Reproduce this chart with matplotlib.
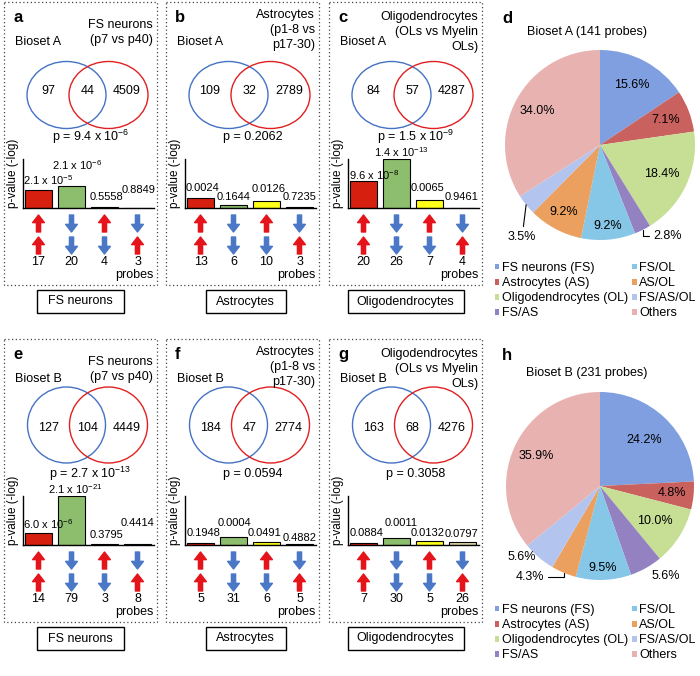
import numpy as np
import matplotlib
matplotlib.use('Agg')
import matplotlib.pyplot as plt
from matplotlib.patches import Ellipse, Rectangle

plt.rcParams['font.family'] = ['Liberation Sans', 'DejaVu Sans']
plt.rcParams['font.size'] = 9
plt.rcParams['mathtext.fontset'] = 'custom'
plt.rcParams['mathtext.rm'] = 'Liberation Sans'
plt.rcParams['mathtext.default'] = 'regular'

# ---- data ----
panel_letters = ['a', 'b', 'c', 'e', 'f', 'g']
biosets = ['Bioset A', 'Bioset A', 'Bioset A', 'Bioset B', 'Bioset B', 'Bioset B']
cell_titles = [['FS neurons', '(p7 vs p40)'], ['Astrocytes', '(p1-8 vs', 'p17-30)'],
               ['Oligodendrocytes', '(OLs vs Myelin', 'OLs)']]
cell_types = ['FS neurons', 'Astrocytes', 'Oligodendrocytes']
venn_bioset_only = [97, 109, 84, 127, 184, 163]
venn_overlap = [44, 32, 57, 104, 47, 68]
venn_cell_only = [4509, 2789, 4287, 4449, 2774, 4276]
overlap_p = [9.4e-6, 0.2062, 1.5e-9, 2.7e-13, 0.0594, 0.3058]
direction_pairs = [('up', 'up'), ('down', 'down'), ('up', 'down'), ('down', 'up')]
bar_p = [[2.1e-5, 2.1e-6, 0.5558, 0.8849],
         [0.0024, 0.1644, 0.0126, 0.7235],
         [9.6e-8, 1.4e-13, 0.0065, 0.9461],
         [6.0e-6, 2.1e-21, 0.3795, 0.4414],
         [0.1948, 0.0004, 0.0491, 0.4882],
         [0.0884, 0.0011, 0.0132, 0.0797]]
probe_counts = [[17, 20, 4, 3], [13, 6, 10, 3], [20, 26, 7, 4],
                [14, 79, 3, 8], [5, 31, 6, 5], [7, 30, 5, 26]]
pie_letters = ['d', 'h']
pie_titles = ['Bioset A (141 probes)', 'Bioset B (231 probes)']
pie_groups = ['FS neurons (FS)', 'Astrocytes (AS)', 'Oligodendrocytes (OL)', 'FS/AS',
              'FS/OL', 'AS/OL', 'FS/AS/OL', 'Others']
pie_a = [15.6, 7.1, 18.4, 2.8, 9.2, 9.2, 3.5, 34.0]
pie_b = [24.2, 4.8, 10.0, 5.6, 9.5, 4.3, 5.6, 35.9]

# ---- styles / layout ----
bar_colors = ['#D71F0F', '#8DBE6E', '#FFFF1A', '#DCD6A0']
arrow_colors = {'up': '#E5141B', 'down': '#4A78C6'}
pie_colors = ['#7F9FE0', '#C9625E', '#C6DF94', '#9381C2', '#86C6E6', '#EBA060',
              '#B3C5EF', '#E8B2B1']
W, H = 700, 676
box_x = [4, 166, 329]
box_y = [2, 339]
BOX_W, BOX_H = 153, 283
title_first = [23, 13, 15]   # centre of first title line, relative to box top
label_box_w = [87, 80, 116]
venn_geom = [dict(cy=93, w=79, h=67), dict(cy=86, w=78, h=76)]
label_dx = [[9.5, 6, 2, 1], [1.5, 0, 2, 0], [11, 5, -2, -1],
            [10, 3.5, 2, 0], [3, 1, -2, 0], [3.5, 5, -1.5, -1]]
label_lift = [[10, 21, 10, 18], [10, 8, 12, 10], [6, 7, 12, 11],
              [9, 7, 9, 21], [10, 14, 9, 6], [10, 15, 8, 8]]
arrow_rows = [(-24, -7), (-46, -29)]


def fmt_p(p):
    if p < 1e-4:
        m, e = f'{p:.1e}'.split('e')
        return f'{m} x 10$^{{{int(e)}}}$'
    return f'{p:.4f}'


fig = plt.figure(figsize=(W / 100, H / 100), dpi=100)
ov = fig.add_axes([0, 0, 1, 1])
ov.set_xlim(0, W)
ov.set_ylim(H, 0)
ov.axis('off')


def px_axes(x, y, w, h):
    a = fig.add_axes([x / W, 1 - (y + h) / H, w / W, h / H])
    a.patch.set_alpha(0)
    return a


heights = [-np.log10(np.array(p)) for p in bar_p]
row_max = [max(h.max() for h in heights[:3]), max(h.max() for h in heights[3:])]

for k in range(6):
    row, col = divmod(k, 3)
    bx, by = box_x[col], box_y[row]
    ov.add_patch(Rectangle((bx, by), BOX_W, BOX_H, fill=False, ls=(0, (1, 2)),
                           lw=0.9, ec='#444444'))
    ov.text(bx + 9, by + 20, panel_letters[k], fontsize=12, fontweight='bold', va='baseline')
    for j, line in enumerate(cell_titles[col]):
        ov.text(bx + 149, by + title_first[col] + 15 * j, line, ha='right', va='center')
    ov.text(bx + 11, by + 40, biosets[k], va='center')

    # venn
    g = venn_geom[row]
    blue_c, red_c = bx + 62.5, bx + 104.5
    cy = by + g['cy']
    ov.add_patch(Ellipse((blue_c, cy), g['w'], g['h'], fill=False, ec='#4472C4', lw=1))
    ov.add_patch(Ellipse((red_c, cy), g['w'], g['h'], fill=False, ec='#E02020', lw=1))
    mid = (blue_c + red_c) / 2
    ov.text(mid - g['w'] / 2, by + 89, str(venn_bioset_only[k]), ha='center', va='center')
    ov.text(mid, by + 89, str(venn_overlap[k]), ha='center', va='center')
    ov.text(mid + g['w'] / 2, by + 89, str(venn_cell_only[k]), ha='center', va='center')
    ov.text(mid + 3, by + 135, 'p = ' + fmt_p(overlap_p[k]), ha='center', va='center')

    # bars
    ax = px_axes(bx + 19, by + 157, 131, 49)
    ax.bar(range(4), heights[k], width=0.82, color=bar_colors, edgecolor='black', lw=0.8)
    ax.set_xlim(-0.47, 3.5)
    ax.set_ylim(0, row_max[row])
    ax.set_xticks([])
    ax.set_yticks([])
    for s in ['top', 'right']:
        ax.spines[s].set_visible(False)
    for s in ['left', 'bottom']:
        ax.spines[s].set_linewidth(1)
    ax.annotate('p-value (-log)', xy=(0, 0), xycoords='axes fraction', xytext=(-10, 0),
                textcoords='offset pixels', rotation=90, ha='center', va='bottom',
                fontsize=8.5)
    for i in range(4):
        ax.annotate(fmt_p(bar_p[k][i]), xy=(i, heights[k][i]),
                    xytext=(label_dx[k][i], label_lift[k][i]), textcoords='offset pixels',
                    ha='center', va='center', fontsize=8, annotation_clip=False)
        for r, d in enumerate(direction_pairs[i]):
            lo, hi = arrow_rows[r]
            tail, tip = (lo, hi) if d == 'up' else (hi, lo)
            ax.annotate('', xy=(i, tip), xycoords=('data', 'axes pixels'),
                        xytext=(i, tail), textcoords=('data', 'axes pixels'),
                        arrowprops=dict(arrowstyle='simple,head_length=0.55,head_width=0.85,tail_width=0.3',
                                        color=arrow_colors[d], shrinkA=0, shrinkB=0,
                                        mutation_scale=10),
                        annotation_clip=False)
        ax.annotate(str(probe_counts[k][i]), xy=(i, -54), xycoords=('data', 'axes pixels'),
                    ha='center', va='center', annotation_clip=False)
    ax.annotate('probes', xy=(1, -67), xycoords=('axes fraction', 'axes pixels'),
                ha='right', va='center', annotation_clip=False)

    # cell type label box
    bw = label_box_w[col]
    cxl = bx + BOX_W / 2 + (3 if col == 1 else 0)
    ov.add_patch(Rectangle((cxl - bw / 2, by + 288), bw, 23, fill=False, ec='black', lw=1))
    ov.text(cxl, by + 299.5, cell_types[col], ha='center', va='center')

# ---- pies ----
pie_geom = [(600, 145, 95), (600, 486, 94)]
pct_r = [[0.72, 0.74, 0.72, None, 0.86, 0.80, None, 0.75],
         [0.68, 0.77, 0.69, None, 0.87, None, None, 0.75]]
outside = [{3: (25, -6, 'elbow'), 6: (-4, -32, 'line')},
           {3: (20, -8, None), 5: (-34, -4, 'elbow'), 6: (-17, 0, None)}]
legend_top = [262, 604]
for p, vals in enumerate([pie_a, pie_b]):
    cx, cy, r = pie_geom[p]
    ax = px_axes(cx - r, cy - r, 2 * r, 2 * r)
    wedges, _ = ax.pie(vals, colors=pie_colors, startangle=90, counterclock=False,
                       wedgeprops=dict(lw=0))
    ax.set_xlim(-1, 1)
    ax.set_ylim(-1, 1)
    for i, w in enumerate(wedges):
        ang = np.deg2rad((w.theta1 + w.theta2) / 2)
        txt = f'{vals[i]:.1f}%'
        if i in outside[p]:
            dx, dy, kind = outside[p][i]
            props = None
            if kind == 'elbow':
                props = dict(arrowstyle='-', lw=0.8, color='black', shrinkA=1, shrinkB=0,
                             connectionstyle='angle,angleA=0,angleB=90,rad=0')
            elif kind == 'line':
                props = dict(arrowstyle='-', lw=0.8, color='black', shrinkA=1, shrinkB=0)
            ax.annotate(txt, xy=(np.cos(ang), np.sin(ang)), xytext=(dx, dy),
                        textcoords='offset pixels', ha='center', va='center',
                        arrowprops=props, annotation_clip=False)
        else:
            rr = pct_r[p][i]
            ax.text(rr * np.cos(ang), rr * np.sin(ang), txt, ha='center', va='center')
    ax.legend(wedges, pie_groups, ncol=2, loc='upper left',
              bbox_to_anchor=(495 / W, 1 - legend_top[p] / H), bbox_transform=fig.transFigure,
              frameon=False, fontsize=9, handlelength=0.35, handleheight=0.35,
              handletextpad=0.2, columnspacing=0.35, labelspacing=0.25, borderpad=0,
              borderaxespad=0)
    ov.text(502, cy - 122 if p == 0 else 360, pie_letters[p], fontsize=12,
            fontweight='bold', va='baseline')
    ov.text(587, cy - 113, pie_titles[p], ha='center', va='center')

fig.savefig('out.png', dpi=100)
